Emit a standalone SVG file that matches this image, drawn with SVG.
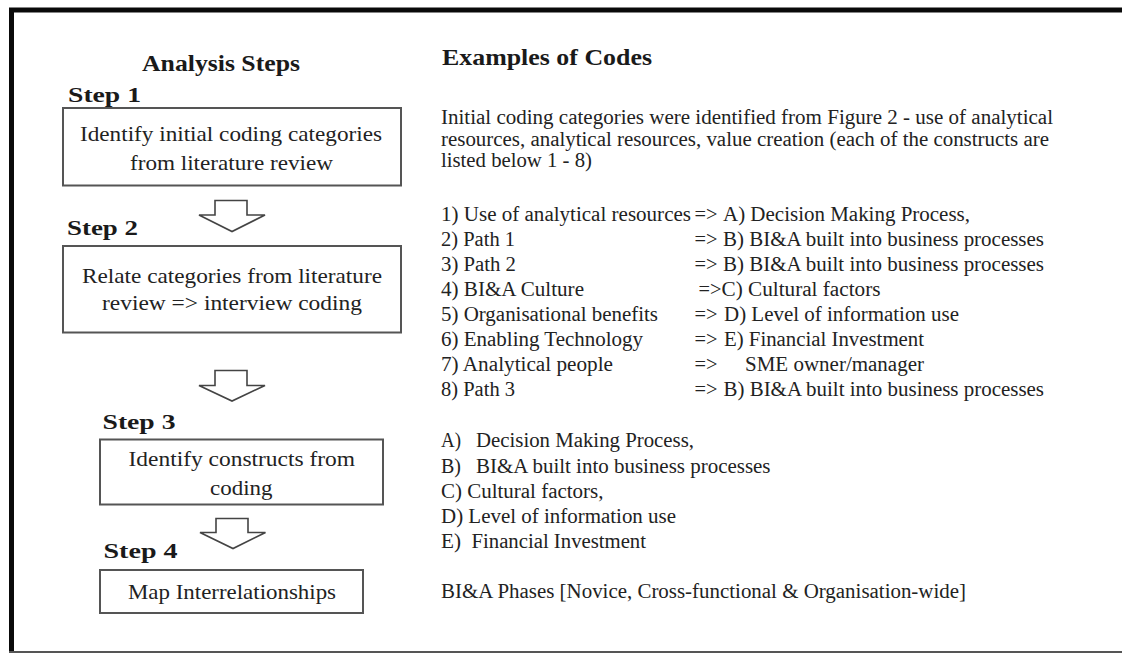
<svg xmlns="http://www.w3.org/2000/svg" width="1122" height="653" viewBox="0 0 1122 653">
<style>
text{font-family:"Liberation Serif","Times New Roman",serif;fill:#222;}
.h{font-weight:bold;font-size:22.5px;fill:#1a1a1a;}
.st{font-weight:bold;font-size:22px;fill:#1a1a1a;}
.bx{font-size:21.5px;}
.t{font-size:20px;}
.box{fill:#fff;stroke:#555;stroke-width:2;}
.arr{fill:#fff;stroke:#444;stroke-width:1.6;stroke-linejoin:miter;}
</style>
<rect width="1122" height="653" fill="#fff"/>
<g id="frame">
<line x1="9" y1="10" x2="1122" y2="10" stroke="#0a0a0a" stroke-width="5"/>
<line x1="11.5" y1="8" x2="11.5" y2="653" stroke="#0a0a0a" stroke-width="5"/>
<line x1="9" y1="652" x2="1122" y2="652" stroke="#555" stroke-width="2"/>
</g>
<g id="title-steps">
<text class="h" x="142" y="71" textLength="158" lengthAdjust="spacingAndGlyphs">Analysis Steps</text>
</g>
<g id="step1">
<text class="st" x="68" y="101.5" textLength="73" lengthAdjust="spacingAndGlyphs">Step 1</text>
<rect class="box" x="63" y="108" width="338" height="77.5"/>
<text class="bx" x="80" y="141" textLength="302" lengthAdjust="spacingAndGlyphs">Identify initial coding categories</text>
<text class="bx" x="130" y="169.5" textLength="203" lengthAdjust="spacingAndGlyphs">from literature review</text>
</g>
<g id="step2">
<text class="st" x="67" y="234.5" textLength="71" lengthAdjust="spacingAndGlyphs">Step 2</text>
<rect class="box" x="63" y="246" width="338" height="86.5"/>
<text class="bx" x="82" y="282.5" textLength="300" lengthAdjust="spacingAndGlyphs">Relate categories from literature</text>
<text class="bx" x="102" y="310" textLength="260" lengthAdjust="spacingAndGlyphs">review =&gt; interview coding</text>
</g>
<g id="step3">
<text class="st" x="102.5" y="428.5" textLength="73" lengthAdjust="spacingAndGlyphs">Step 3</text>
<rect class="box" x="100" y="439.5" width="283" height="65"/>
<text class="bx" x="128.5" y="466" textLength="226.5" lengthAdjust="spacingAndGlyphs">Identify constructs from</text>
<text class="bx" x="210" y="494.5" textLength="62.5" lengthAdjust="spacingAndGlyphs">coding</text>
</g>
<g id="step4">
<text class="st" x="103.5" y="557.5" textLength="74" lengthAdjust="spacingAndGlyphs">Step 4</text>
<rect class="box" x="100" y="570" width="263" height="43"/>
<text class="bx" x="128" y="598.5" textLength="208" lengthAdjust="spacingAndGlyphs">Map Interrelationships</text>
</g>
<g id="connectors">
<polygon class="arr" points="215,200.5 247,200.5 247,215 265,215 232,231.5 199,215 215,215"/>
<polygon class="arr" points="215,370.5 247,370.5 247,385.5 265,385.5 232,401 199,385.5 215,385.5"/>
<polygon class="arr" points="216,518.5 248,518.5 248,532.5 265.5,532.5 233,548.5 200,532.5 216,532.5"/>
</g>
<g id="codes">
<text class="h" x="442" y="65" textLength="210" lengthAdjust="spacingAndGlyphs">Examples of Codes</text>
<text class="t" x="441" y="124" textLength="612" lengthAdjust="spacingAndGlyphs">Initial coding categories were identified from Figure 2 - use of analytical</text>
<text class="t" x="441" y="145.5" textLength="608" lengthAdjust="spacingAndGlyphs">resources, analytical resources, value creation (each of the constructs are</text>
<text class="t" x="441" y="167" textLength="151" lengthAdjust="spacingAndGlyphs">listed below 1 - 8)</text>

<text class="t" x="441" y="220.5" textLength="250" lengthAdjust="spacingAndGlyphs">1) Use of analytical resources</text>
<text class="t" x="694.5" y="220.5" textLength="23" lengthAdjust="spacingAndGlyphs">=&gt;</text>
<text class="t" x="723" y="220.5" textLength="247" lengthAdjust="spacingAndGlyphs">A) Decision Making Process,</text>

<text class="t" x="441" y="245.5" textLength="74" lengthAdjust="spacingAndGlyphs">2) Path 1</text>
<text class="t" x="694.5" y="245.5" textLength="23" lengthAdjust="spacingAndGlyphs">=&gt;</text>
<text class="t" x="723" y="245.5" textLength="321" lengthAdjust="spacingAndGlyphs">B) BI&amp;A built into business processes</text>

<text class="t" x="441" y="270.5" textLength="75" lengthAdjust="spacingAndGlyphs">3) Path 2</text>
<text class="t" x="694.5" y="270.5" textLength="23" lengthAdjust="spacingAndGlyphs">=&gt;</text>
<text class="t" x="723" y="270.5" textLength="321" lengthAdjust="spacingAndGlyphs">B) BI&amp;A built into business processes</text>

<text class="t" x="441" y="295.5" textLength="143" lengthAdjust="spacingAndGlyphs">4) BI&amp;A Culture</text>
<text class="t" x="698.5" y="295.5" textLength="23" lengthAdjust="spacingAndGlyphs">=&gt;</text>
<text class="t" x="721.5" y="295.5" textLength="159" lengthAdjust="spacingAndGlyphs">C) Cultural factors</text>

<text class="t" x="441" y="320.5" textLength="217" lengthAdjust="spacingAndGlyphs">5) Organisational benefits</text>
<text class="t" x="694.5" y="320.5" textLength="23" lengthAdjust="spacingAndGlyphs">=&gt;</text>
<text class="t" x="724" y="320.5" textLength="235" lengthAdjust="spacingAndGlyphs">D) Level of information use</text>

<text class="t" x="441" y="345.5" textLength="202" lengthAdjust="spacingAndGlyphs">6) Enabling Technology</text>
<text class="t" x="694.5" y="345.5" textLength="23" lengthAdjust="spacingAndGlyphs">=&gt;</text>
<text class="t" x="724" y="345.5" textLength="200" lengthAdjust="spacingAndGlyphs">E) Financial Investment</text>

<text class="t" x="441" y="370.5" textLength="172" lengthAdjust="spacingAndGlyphs">7) Analytical people</text>
<text class="t" x="694.5" y="370.5" textLength="23" lengthAdjust="spacingAndGlyphs">=&gt;</text>
<text class="t" x="745" y="370.5" textLength="179" lengthAdjust="spacingAndGlyphs">SME owner/manager</text>

<text class="t" x="441" y="395.5" textLength="74" lengthAdjust="spacingAndGlyphs">8) Path 3</text>
<text class="t" x="694.5" y="395.5" textLength="23" lengthAdjust="spacingAndGlyphs">=&gt;</text>
<text class="t" x="723.5" y="395.5" textLength="320.5" lengthAdjust="spacingAndGlyphs">B) BI&amp;A built into business processes</text>

<text class="t" x="441" y="447" textLength="20" lengthAdjust="spacingAndGlyphs">A)</text>
<text class="t" x="476" y="447" textLength="218" lengthAdjust="spacingAndGlyphs">Decision Making Process,</text>
<text class="t" x="441" y="472.5" textLength="20" lengthAdjust="spacingAndGlyphs">B)</text>
<text class="t" x="476" y="472.5" textLength="294.5" lengthAdjust="spacingAndGlyphs">BI&amp;A built into business processes</text>
<text class="t" x="441" y="497.5" textLength="162.5" lengthAdjust="spacingAndGlyphs">C) Cultural factors,</text>
<text class="t" x="441" y="522.5" textLength="235" lengthAdjust="spacingAndGlyphs">D) Level of information use</text>
<text class="t" x="441" y="547.5" textLength="20" lengthAdjust="spacingAndGlyphs">E)</text>
<text class="t" x="471.5" y="547.5" textLength="174.5" lengthAdjust="spacingAndGlyphs">Financial Investment</text>
<text class="t" x="441" y="598" textLength="525" lengthAdjust="spacingAndGlyphs">BI&amp;A Phases [Novice, Cross-functional &amp; Organisation-wide]</text>
</g>
</svg>
